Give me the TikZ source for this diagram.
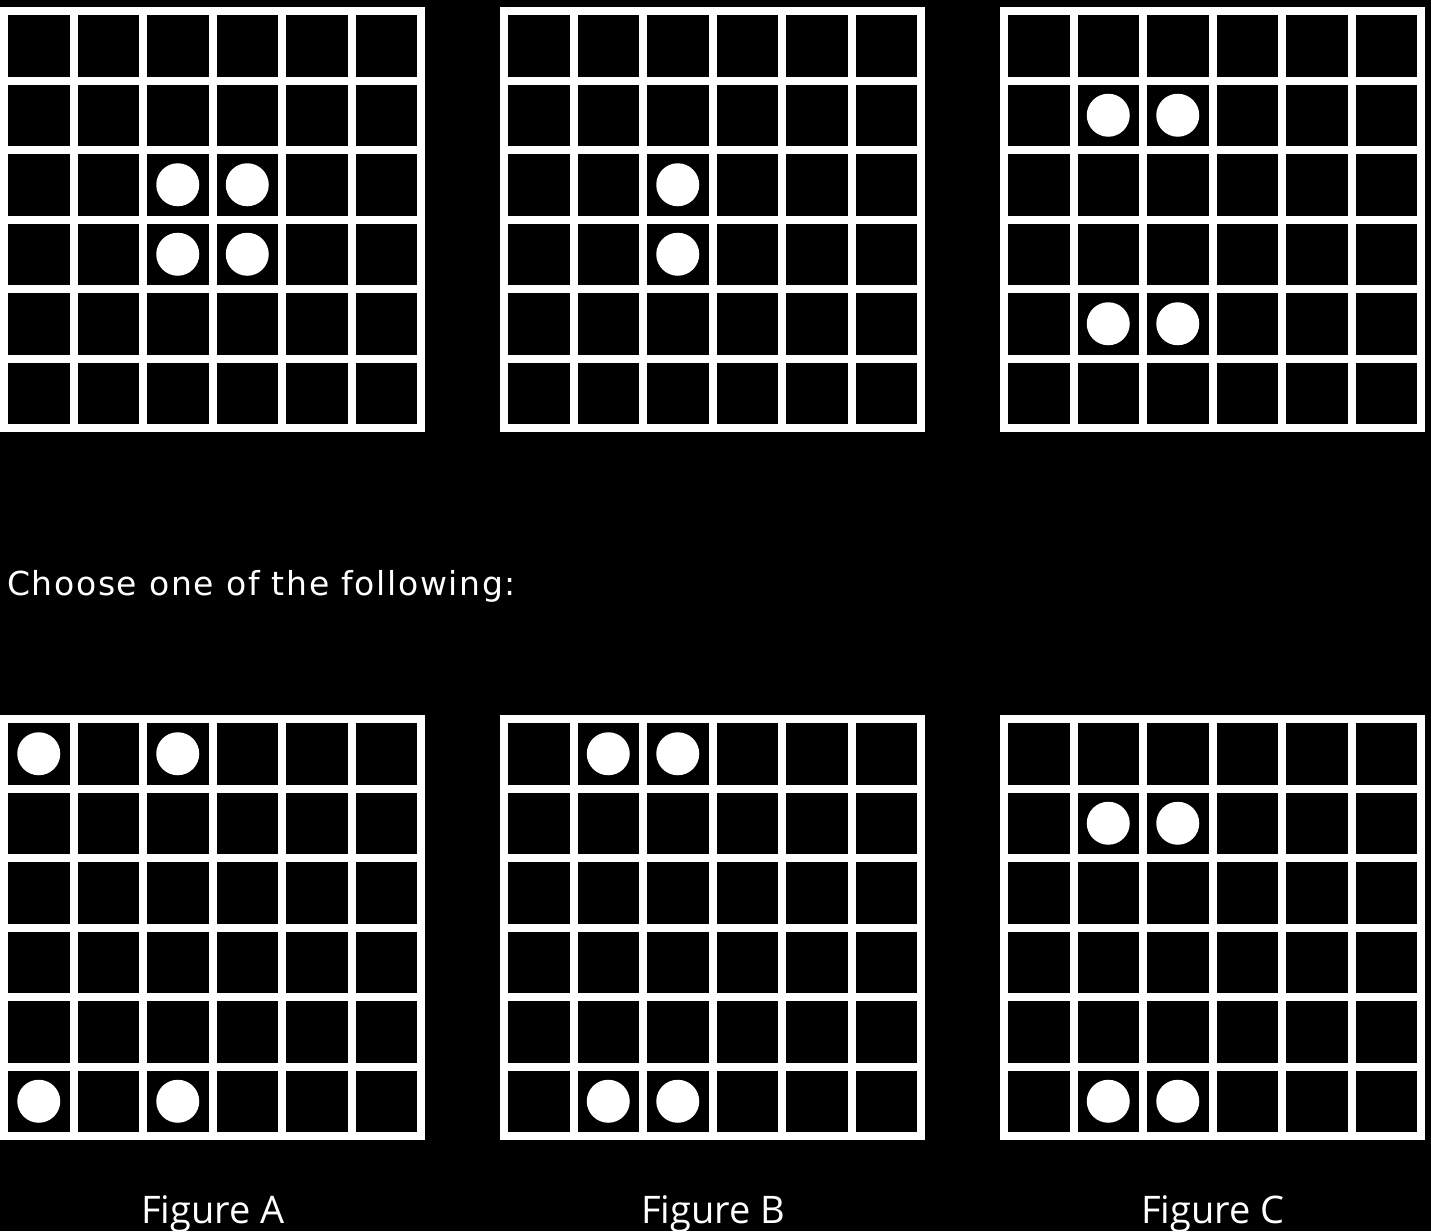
\documentclass[tikz,border=0pt]{standalone}
\usepackage{fontspec}
\newfontfamily\chfont[LetterSpace=5]{DejaVu Sans}
\newfontfamily\figfont{Open Sans}
\newcommand\boardat[2]{%
  \foreach \i in {0,...,6}{
    \draw[gridline] ({#1+\i*69.5},#2) -- ({#1+\i*69.5},{#2+417});
    \draw[gridline] (#1,{#2+\i*69.5}) -- ({#1+417},{#2+\i*69.5});
  }%
}
\newcommand\dotat[4]{%
  \fill[dot] ({#1+69.5*#3+34.75},{#2+69.5*#4+34.75}) circle (21.5pt);%
}
\begin{document}
\begin{tikzpicture}[x=1pt,y=-1pt,
  gridline/.style={white,line width=8pt,line cap=rect},
  dot/.style={white},
  choosetext/.style={white,inner sep=0pt,font=\chfont\fontsize{33}{38}\selectfont},
  figlabel/.style={white,inner sep=0pt,font=\figfont\fontsize{38}{44}\selectfont}]
\fill[black] (0,0) rectangle (1431,1231);
\useasboundingbox (0,0) rectangle (1431,1231);
% top row
\boardat{4}{11}
\dotat{4}{11}{2}{2}\dotat{4}{11}{3}{2}\dotat{4}{11}{2}{3}\dotat{4}{11}{3}{3}
\boardat{504}{11}
\dotat{504}{11}{2}{2}\dotat{504}{11}{2}{3}
\boardat{1004}{11}
\dotat{1004}{11}{1}{1}\dotat{1004}{11}{2}{1}\dotat{1004}{11}{1}{4}\dotat{1004}{11}{2}{4}
% text
\node[choosetext,anchor=base west] (choose) at (7,595) {Choose one of the following:};
% bottom row
\boardat{4}{719}
\dotat{4}{719}{0}{0}\dotat{4}{719}{2}{0}\dotat{4}{719}{0}{5}\dotat{4}{719}{2}{5}
\boardat{504}{719}
\dotat{504}{719}{1}{0}\dotat{504}{719}{2}{0}\dotat{504}{719}{1}{5}\dotat{504}{719}{2}{5}
\boardat{1004}{719}
\dotat{1004}{719}{1}{1}\dotat{1004}{719}{2}{1}\dotat{1004}{719}{1}{5}\dotat{1004}{719}{2}{5}
\node[figlabel,anchor=base] (figA) at (213,1223) {Figure A};
\node[figlabel,anchor=base] (figB) at (713,1223) {Figure B};
\node[figlabel,anchor=base] (figC) at (1213,1223) {Figure C};
\end{tikzpicture}
\end{document}
